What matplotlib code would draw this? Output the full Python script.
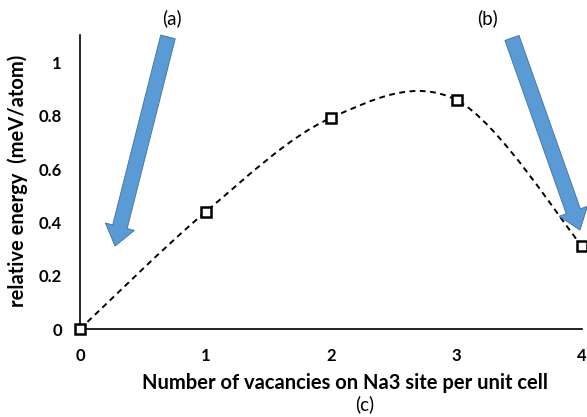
import matplotlib
matplotlib.use("Agg")
import matplotlib.pyplot as plt
import numpy as np
from matplotlib.path import Path
from matplotlib.patches import PathPatch, FancyArrow
from matplotlib.transforms import IdentityTransform

plt.rcParams['font.family'] = ['Lato', 'DejaVu Sans']

# Data
vacancies = [0, 1, 2, 3, 4]
energy = [0.0, 0.439, 0.792, 0.859, 0.311]
x_ticks = [0, 1, 2, 3, 4]
y_ticks = [0, 0.2, 0.4, 0.6, 0.8, 1]
y_tick_labels = ['0', '0.2', '0.4', '0.6', '0.8', '1']

W, H = 587, 417
fig = plt.figure(figsize=(W / 100, H / 100), dpi=100)
ax = fig.add_axes([80 / W, (H - 329) / H, 502 / W, 294 / H])
ax.set_xlim(0, 4)
ax.set_ylim(0, 1.103)

# Smoothed (Excel-like Bezier) dashed curve through the points
P = np.column_stack([vacancies, energy]).astype(float)
n = len(P)
verts = [P[0]]
codes = [Path.MOVETO]
for i in range(n - 1):
    pm = P[i - 1] if i > 0 else P[i]
    pp = P[i + 2] if i + 2 < n else P[i + 1]
    c1 = P[i] + (P[i + 1] - pm) / 6
    c2 = P[i + 1] - (pp - P[i]) / 6
    verts += [c1, c2, P[i + 1]]
    codes += [Path.CURVE4] * 3
curve = PathPatch(Path(verts, codes), fill=False, edgecolor='black', lw=1.4,
                  linestyle=(0, (3, 2.3)), clip_on=False)
ax.add_patch(curve)

ax.plot(vacancies, energy, linestyle='none', marker='s', markersize=6.5,
        markerfacecolor='white', markeredgecolor='black', markeredgewidth=1.8,
        clip_on=False, zorder=5)

for s in ['top', 'right']:
    ax.spines[s].set_visible(False)
for s in ['left', 'bottom']:
    ax.spines[s].set_linewidth(1.2)
ax.set_xticks(x_ticks)
ax.set_yticks(y_ticks)
ax.set_yticklabels(y_tick_labels)
ax.tick_params(length=0, labelsize=12, pad=13)
ax.tick_params(axis='x', pad=14)
for lab in ax.get_xticklabels() + ax.get_yticklabels():
    lab.set_fontweight('bold')

ax.set_xlabel('Number of vacancies on Na3 site per unit cell', fontsize=14.5,
              fontweight='bold')
ax.set_ylabel('relative energy  (meV/atom)', fontsize=14.5, fontweight='bold')
ax.xaxis.set_label_coords((345 - 80) / 502, (329 - 383) / 294)
ax.xaxis.label.set_va('center')
ax.yaxis.set_label_coords((18 - 80) / 502, (329 - 181) / 294)
ax.yaxis.label.set_va('center')

fig.canvas.draw()
# Arrows (annotation), defined in data coordinates
arrows = [((0.701, 1.096), (0.279, 0.311)), ((3.442, 1.092), (3.984, 0.371))]
for tail, tip in arrows:
    t = ax.transData.transform(tail)
    h = ax.transData.transform(tip)
    arr = FancyArrow(t[0], t[1], h[0] - t[0], h[1] - t[1], width=15,
                     head_width=30, head_length=20, length_includes_head=True,
                     facecolor='#5B9BD5', edgecolor='#41719C', lw=0.6,
                     transform=IdentityTransform(), zorder=6)
    fig.add_artist(arr)

fig.text(172 / W, 1 - 18 / H, '(a)', ha='center', va='center', fontsize=13.5)
fig.text(487 / W, 1 - 18 / H, '(b)', ha='center', va='center', fontsize=13.5)
fig.text(365 / W, 1 - 404 / H, '(c)', ha='center', va='center', fontsize=13.5)

fig.savefig('out.png', dpi=100)
